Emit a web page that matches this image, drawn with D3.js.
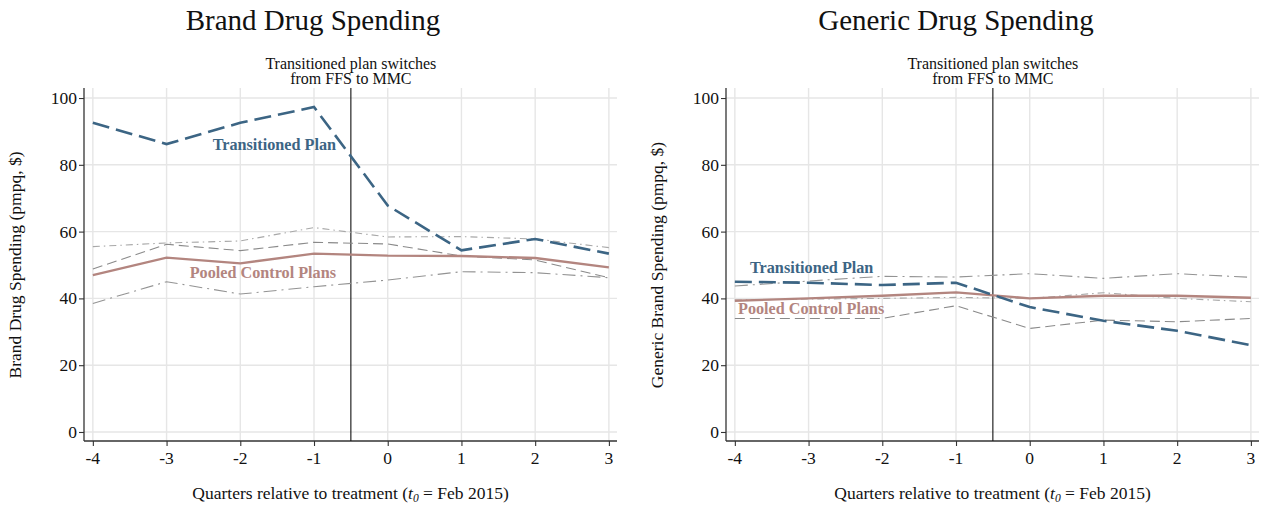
<!DOCTYPE html>
<html>
<head>
<meta charset="utf-8">
<script src="https://cdn.jsdelivr.net/npm/d3@7"></script>
<style>
  html, body { margin: 0; padding: 0; background: #fff; }
  svg { display: block; }
</style>
</head>
<body>
<svg id="chart" width="1264" height="508" font-family="Liberation Serif, Times New Roman, serif"></svg>
<script>
// Quarters relative to the FFS -> MMC switch
const quarters = [-4, -3, -2, -1, 0, 1, 2, 3];
const yTicks = [0, 20, 40, 60, 80, 100];

// Brand drug spending (pmpq, $)
const brandTransitioned = [92.6, 86.2, 92.6, 97.3, 67.8, 54.4, 57.8, 53.4];
const brandPooled       = [47.0, 52.2, 50.5, 53.4, 52.8, 52.7, 52.1, 49.3];
const brandControlA     = [55.5, 56.6, 57.2, 61.2, 58.4, 58.5, 57.8, 55.2];
const brandControlB     = [48.8, 56.2, 54.3, 56.8, 56.3, 52.7, 51.5, 46.2];
const brandControlC     = [38.5, 45.0, 41.3, 43.5, 45.5, 48.0, 47.7, 46.2];

// Generic drug spending (pmpq, $)
const genericTransitioned = [45.0, 44.7, 44.0, 44.7, 37.4, 33.3, 30.3, 26.0];
const genericPooled       = [39.3, 40.0, 40.8, 41.8, 40.0, 40.8, 40.8, 40.2];
const genericControlA     = [39.5, 39.8, 40.0, 40.3, 40.0, 41.7, 40.0, 39.0];
const genericControlB     = [34.0, 34.0, 34.0, 37.8, 31.0, 33.5, 33.0, 34.0];
const genericControlC     = [43.7, 45.2, 46.6, 46.4, 47.4, 46.0, 47.4, 46.3];

const BLUE = "#3c6584";
const ROSE = "#b3857f";
const INK = "#111";
const TICK_FONT = 17.5;

const svg = d3.select("#chart");

function drawPanel(cfg) {
  const left = cfg.left, right = cfg.left + 533;
  const top = 88, bottom = 441;
  const x = d3.scaleLinear().domain([-4.12, 3.11]).range([left, right]);
  const y = d3.scaleLinear().domain([-2.7, 103]).range([bottom, top]);
  const g = svg.append("g");

  // grid
  g.append("g").selectAll("line").data(yTicks).join("line")
    .attr("x1", left).attr("x2", right)
    .attr("y1", d => y(d)).attr("y2", d => y(d))
    .attr("stroke", "#e6e6e6").attr("stroke-width", 1.4);
  g.append("g").selectAll("line").data(quarters).join("line")
    .attr("x1", d => x(d)).attr("x2", d => x(d))
    .attr("y1", top).attr("y2", bottom)
    .attr("stroke", "#e6e6e6").attr("stroke-width", 1.4);

  // axes (tick marks from d3, labels set in the serif face)
  const yAxis = g.append("g").attr("transform", `translate(${left},0)`)
    .call(d3.axisLeft(y).tickValues(yTicks).tickSize(5).tickFormat(""));
  const xAxis = g.append("g").attr("transform", `translate(0,${bottom})`)
    .call(d3.axisBottom(x).tickValues(quarters).tickSize(5).tickFormat(""));
  [yAxis, xAxis].forEach(a => {
    a.select(".domain").attr("stroke", "#333").attr("stroke-width", 1.3);
    a.selectAll(".tick line").attr("stroke", "#333").attr("stroke-width", 1.1);
    a.selectAll(".tick text").remove();
  });
  yAxis.select(".domain").attr("d", `M0,${top}V${bottom}`);
  xAxis.select(".domain").attr("d", `M${left},0H${right}`);

  g.append("g").selectAll("text").data(yTicks).join("text")
    .attr("x", left - 7).attr("y", d => y(d)).attr("dy", "0.34em")
    .attr("text-anchor", "end").attr("font-size", TICK_FONT).attr("fill", INK)
    .text(d => String(d));
  g.append("g").selectAll("text").data(quarters).join("text")
    .attr("x", d => x(d)).attr("y", bottom + 23)
    .attr("text-anchor", "middle").attr("font-size", TICK_FONT).attr("fill", INK)
    .text(d => String(d));

  // treatment line
  g.append("line")
    .attr("x1", x(-0.5)).attr("x2", x(-0.5))
    .attr("y1", top).attr("y2", bottom)
    .attr("stroke", INK).attr("stroke-width", 1.1);
  g.append("text").attr("x", x(-0.5)).attr("y", 69).attr("text-anchor", "middle")
    .attr("font-size", 16).attr("fill", INK).text("Transitioned plan switches");
  g.append("text").attr("x", x(-0.5)).attr("y", 84).attr("text-anchor", "middle")
    .attr("font-size", 16).attr("fill", INK).text("from FFS to MMC");

  // series
  const line = d3.line().x((d, i) => x(quarters[i])).y(d => y(d));
  const series = [
    { v: cfg.controlA, color: "#a8a8a8", w: 1.1, dash: "7,4,1.5,4" },
    { v: cfg.controlB, color: "#8a8a8a", w: 1.1, dash: "10,5" },
    { v: cfg.controlC, color: "#939393", w: 1.1, dash: "13,5,2,5" },
    { v: cfg.pooled, color: ROSE, w: 2.3, dash: null },
    { v: cfg.transitioned, color: BLUE, w: 2.6, dash: "17,7" }
  ];
  g.append("g").selectAll("path").data(series).join("path")
    .attr("d", d => line(d.v))
    .attr("fill", "none")
    .attr("stroke", d => d.color)
    .attr("stroke-width", d => d.w)
    .attr("stroke-dasharray", d => d.dash);

  // series labels
  g.append("text").attr("x", cfg.tLabel[0]).attr("y", cfg.tLabel[1])
    .attr("text-anchor", cfg.anchor).attr("fill", BLUE)
    .attr("font-size", 16.2).attr("font-weight", "bold").text("Transitioned Plan");
  g.append("text").attr("x", cfg.pLabel[0]).attr("y", cfg.pLabel[1])
    .attr("text-anchor", cfg.anchor).attr("fill", ROSE)
    .attr("font-size", 16.2).attr("font-weight", "bold").text("Pooled Control Plans");

  // titles
  svg.append("text").attr("x", cfg.titleX).attr("y", 30).attr("text-anchor", "middle")
    .attr("font-size", 29).attr("fill", INK).text(cfg.title);
  svg.append("text")
    .attr("transform", `translate(${cfg.left - 63},265) rotate(-90)`)
    .attr("text-anchor", "middle").attr("font-size", 17.5).attr("fill", INK).text(cfg.yTitle);
  const xt = svg.append("text").attr("x", (left + right) / 2).attr("y", 499)
    .attr("text-anchor", "middle").attr("font-size", 17.5).attr("fill", INK);
  xt.append("tspan").text("Quarters relative to treatment (");
  xt.append("tspan").attr("font-style", "italic").text("t");
  xt.append("tspan").attr("font-style", "italic").attr("font-size", 11.5).attr("dy", 3).text("0");
  xt.append("tspan").attr("dy", -3).text(" = Feb 2015)");
}

drawPanel({
  left: 84, title: "Brand Drug Spending", titleX: 313,
  yTitle: "Brand Drug Spending (pmpq, $)",
  transitioned: brandTransitioned, pooled: brandPooled,
  controlA: brandControlA, controlB: brandControlB, controlC: brandControlC,
  anchor: "end", tLabel: [336, 150], pLabel: [336, 278]
});
drawPanel({
  left: 726, title: "Generic Drug Spending", titleX: 956,
  yTitle: "Generic Brand Spending (pmpq, $)",
  transitioned: genericTransitioned, pooled: genericPooled,
  controlA: genericControlA, controlB: genericControlB, controlC: genericControlC,
  anchor: "start", tLabel: [750, 273], pLabel: [738, 314]
});
</script>
</body>
</html>
